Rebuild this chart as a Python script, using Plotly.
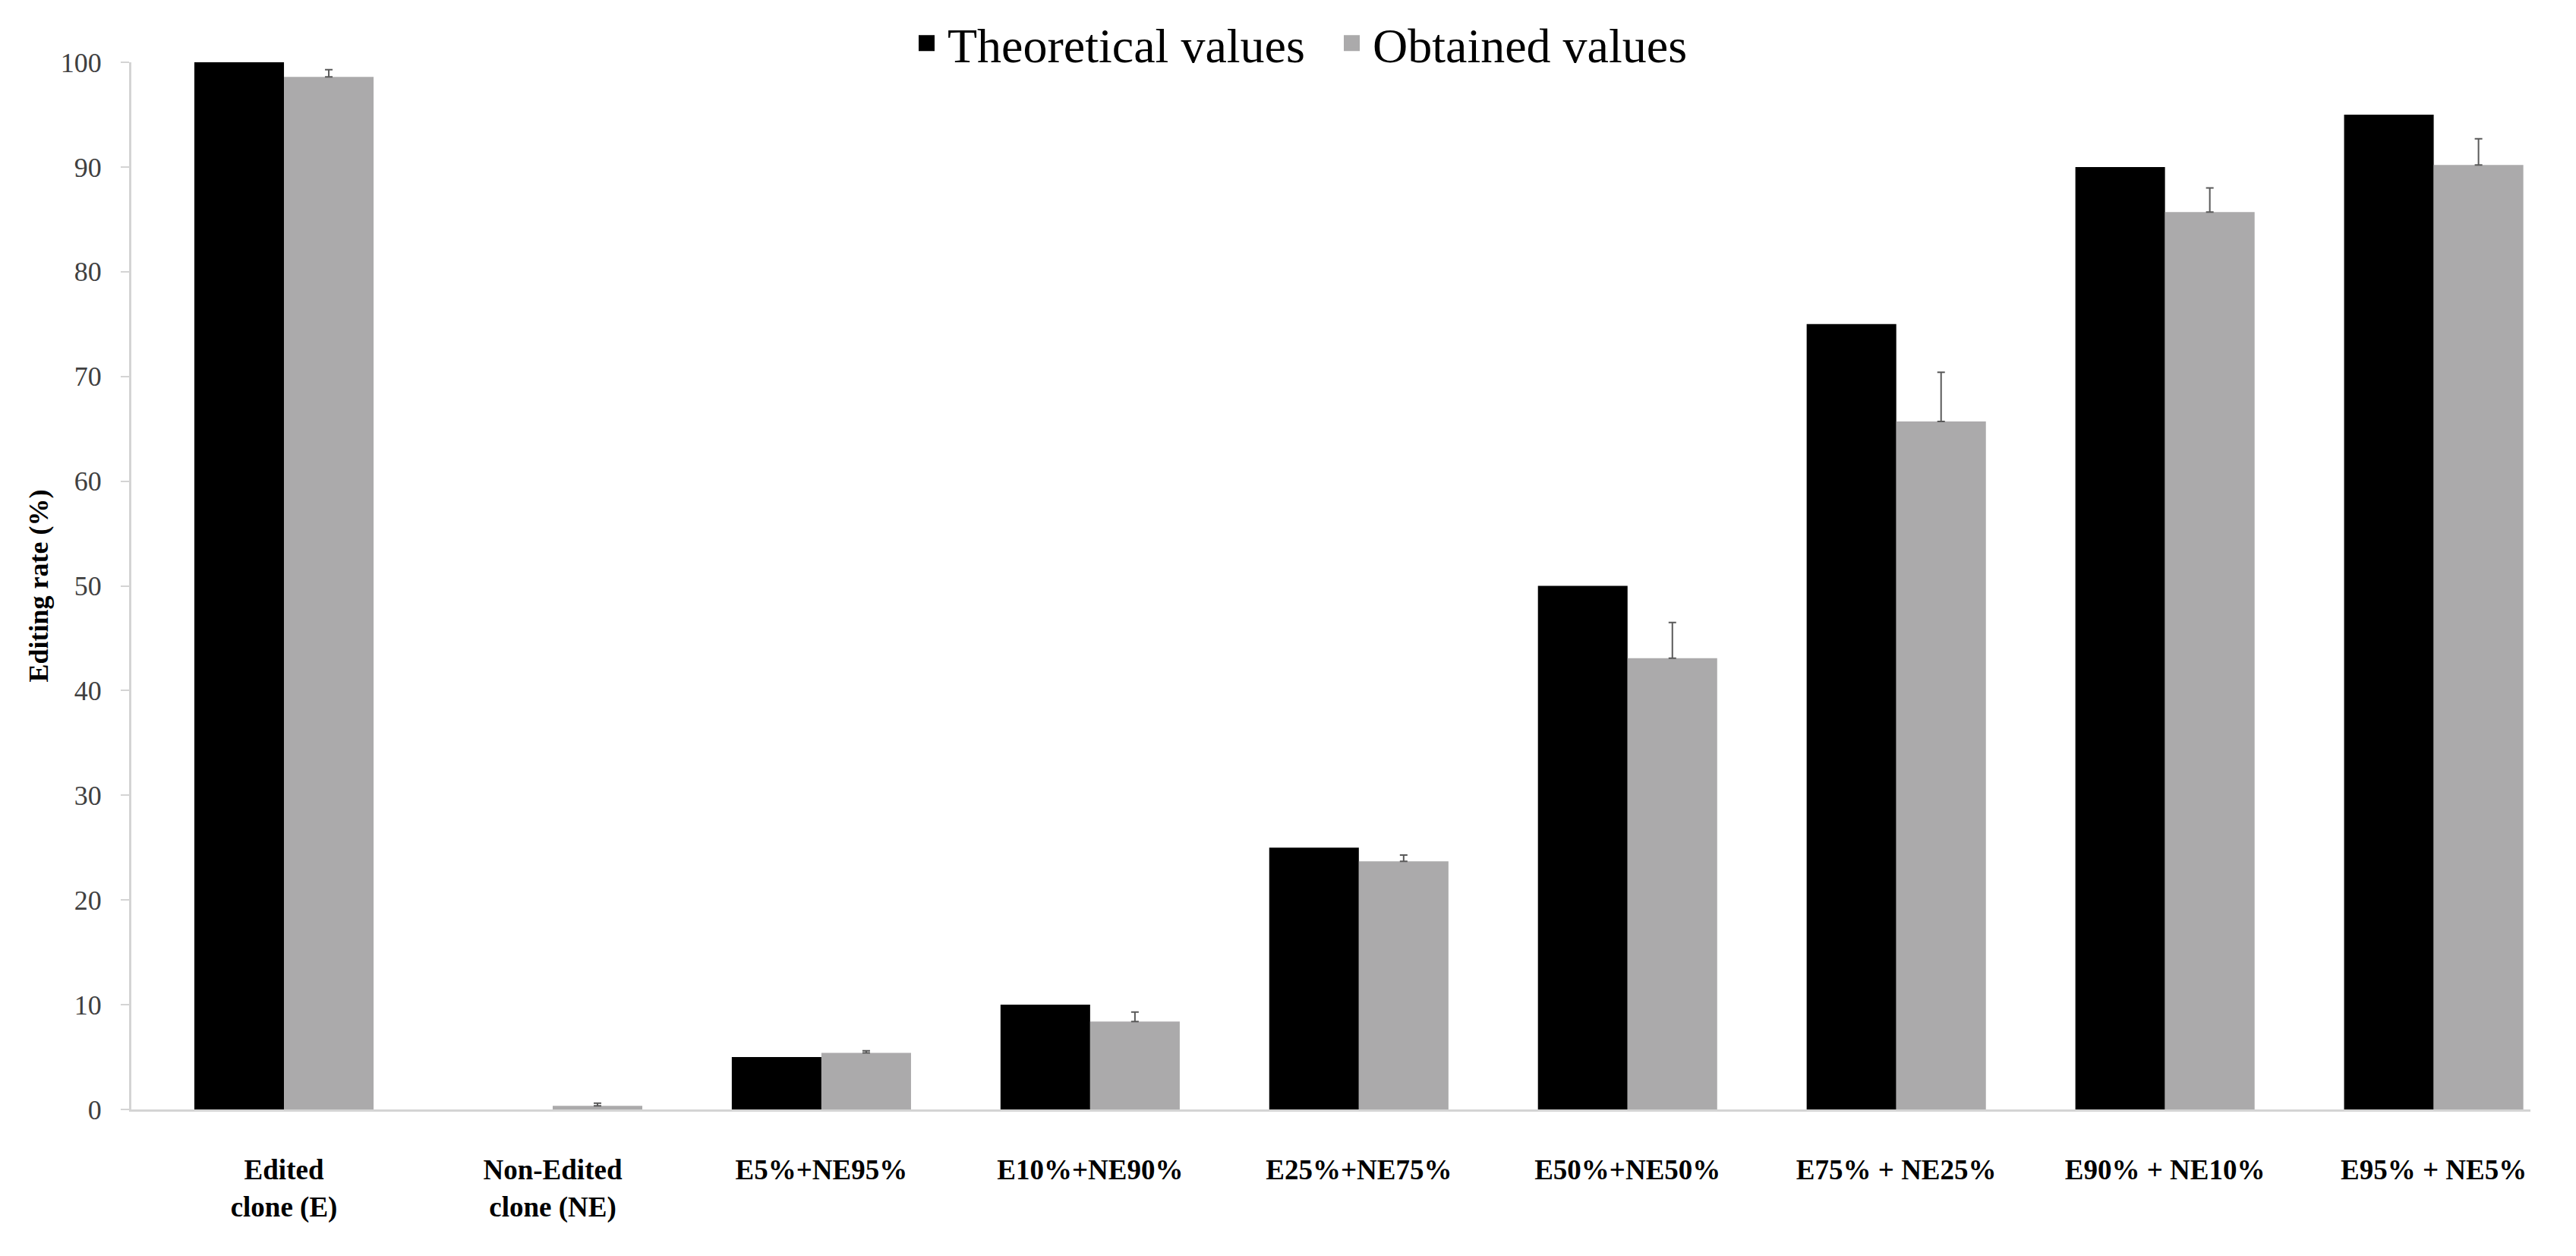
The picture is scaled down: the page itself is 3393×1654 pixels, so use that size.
import plotly.graph_objects as go

categories = ["Edited<br>clone (E)", "Non-Edited<br>clone (NE)", "E5%+NE95%", "E10%+NE90%",
              "E25%+NE75%", "E50%+NE50%", "E75% + NE25%", "E90% + NE10%", "E95% + NE5%"]
theoretical = [100, 0, 5, 10, 25, 50, 75, 90, 95]
obtained = [98.6, 0.35, 5.4, 8.4, 23.7, 43.1, 65.7, 85.7, 90.2]
obtained_err = [0.7, 0.25, 0.2, 0.9, 0.6, 3.4, 4.7, 2.3, 2.5]
y_ticks = [0, 10, 20, 30, 40, 50, 60, 70, 80, 90, 100]
series_names = ["Theoretical values", "Obtained values"]
series_colors = ["#000000", "#ABAAAB"]

xpos = list(range(len(categories)))

fig = go.Figure()
fig.add_trace(go.Bar(
    x=xpos, y=theoretical, name=series_names[0], showlegend=False,
    marker=dict(color=series_colors[0], line=dict(width=0)),
))
fig.add_trace(go.Bar(
    x=xpos, y=obtained, name=series_names[1], showlegend=False,
    marker=dict(color=series_colors[1], line=dict(width=0)),
    error_y=dict(type="data", array=obtained_err, symmetric=False,
                 arrayminus=[0] * len(obtained_err),
                 color="#5a5a5a", thickness=2, width=5),
))
# legend entries (square swatches)
for nm, col in zip(series_names, series_colors):
    fig.add_trace(go.Scatter(
        x=[None], y=[None], mode="markers", name=nm, showlegend=True,
        marker=dict(symbol="square", size=22, color=col, line=dict(width=5, color=col)),
    ))

serif = "Liberation Serif, Times New Roman, serif"

fig.update_layout(
    width=3385, height=1646,
    paper_bgcolor="white", plot_bgcolor="white",
    barmode="group", bargap=0.333, bargroupgap=0,
    margin=dict(l=165, r=60, t=74, b=193, autoexpand=False),
    font=dict(family=serif, color="#000000"),
    legend=dict(orientation="h", x=0.5, xanchor="center", y=1.018, yanchor="middle",
                font=dict(family=serif, size=64, color="#000000"),
                bgcolor="rgba(0,0,0,0)", traceorder="normal",
                entrywidth=500, itemsizing="trace", itemwidth=45),
    showlegend=True,
)

fig.update_xaxes(
    range=[-0.568, 8.36],
    tickmode="array", tickvals=xpos, ticktext=categories,
    ticks="", showgrid=False, zeroline=False,
    showline=True, linecolor="#d4d4d4", linewidth=3,
    tickfont=dict(family=serif, size=37, color="#000000", weight="bold"),
    ticklabelstandoff=45,
)

fig.update_yaxes(
    range=[0, 100],
    tickmode="array", tickvals=y_ticks, ticktext=[str(v) for v in y_ticks],
    ticks="outside", ticklen=11, tickwidth=2, tickcolor="#d4d4d4",
    showgrid=False, zeroline=False,
    showline=True, linecolor="#d4d4d4", linewidth=3,
    tickfont=dict(family=serif, size=36, color="#404040"),
    ticklabelstandoff=18,
    title=dict(text="<b>Editing rate (%)</b>", standoff=6,
               font=dict(family=serif, size=36, color="#000000")),
)

fig.write_html("out.html")
